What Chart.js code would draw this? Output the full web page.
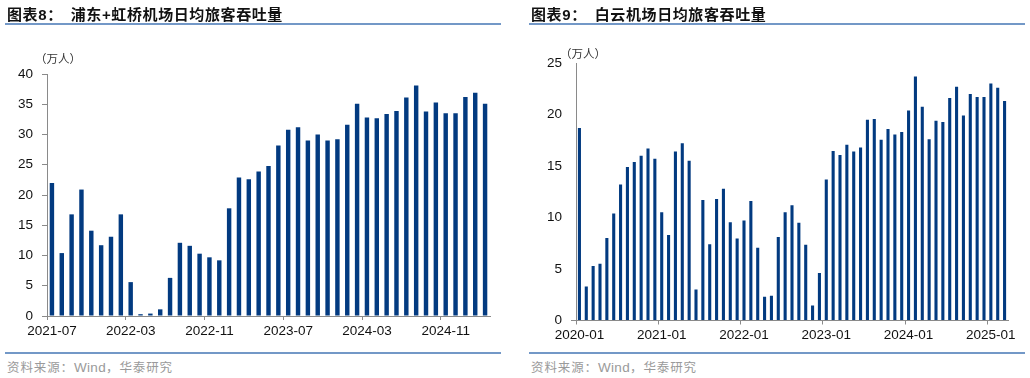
<!DOCTYPE html>
<html>
<head>
<meta charset="utf-8">
<script src="https://cdn.jsdelivr.net/npm/chart.js@4/dist/chart.umd.min.js"></script>
<style>
  html, body { margin: 0; padding: 0; background: #fff; }
  #wrap { position: relative; width: 1030px; height: 378px; overflow: hidden; font-family: "Liberation Sans", Arial, sans-serif; }
  canvas { position: absolute; top: 0; }
  .title { position: absolute; top: 5px; font-family: "Noto Sans CJK SC", sans-serif; font-weight: bold; font-size: 15px; line-height: 18px; color: #111; white-space: nowrap; letter-spacing: 0.6px; }
  .title .num { font-family: "Liberation Sans", Arial, sans-serif; }
  .title .gap { display: inline-block; width: 8px; }
  .rule { position: absolute; height: 2px; background: #7398c7; }
  .src { position: absolute; top: 358px; font-family: "Noto Sans CJK SC", sans-serif; font-size: 12.5px; line-height: 18px; color: #9a9a9a; letter-spacing: 0.9px; white-space: nowrap; }
  .src .w { font-family: "Liberation Sans", Arial, sans-serif; letter-spacing: 0.3px; font-size: 13.5px; }
  .unit { position: absolute; font-family: "Noto Sans CJK SC", sans-serif; font-size: 11.5px; line-height: 14px; color: #333; white-space: nowrap; }
</style>
</head>
<body>
<div id="wrap">
  <canvas id="c1" width="515" height="345" style="left:0px"></canvas>
  <canvas id="c2" width="515" height="345" style="left:515px"></canvas>

  <div class="title" style="left:7px">图表<span class="num">8</span>：<span class="gap"></span>浦东<span class="num">+</span>虹桥机场日均旅客吞吐量</div>
  <div class="rule" style="left:5px; top:23px; width:496px"></div>
  <div class="title" style="left:531px">图表<span class="num">9</span>：<span class="gap"></span>白云机场日均旅客吞吐量</div>
  <div class="rule" style="left:529px; top:23px; width:496px"></div>

  <div class="unit" style="left:35px; top:51px">（万人）</div>
  <div class="unit" style="left:560px; top:46px">（万人）</div>

  <div class="rule" style="left:5px; top:352px; width:496px"></div>
  <div class="rule" style="left:529px; top:352px; width:496px"></div>
  <div class="src" style="left:7px">资料来源：<span class="w">Wind</span>，华泰研究</div>
  <div class="src" style="left:531px">资料来源：<span class="w">Wind</span>，华泰研究</div>
</div>

<script>
// ---- Chart 8: 浦东+虹桥机场日均旅客吞吐量 (万人), monthly 2021-07 .. 2025-03 ----
const months8 = [
  "2021-07","2021-08","2021-09","2021-10","2021-11","2021-12",
  "2022-01","2022-02","2022-03","2022-04","2022-05","2022-06","2022-07","2022-08","2022-09","2022-10","2022-11","2022-12",
  "2023-01","2023-02","2023-03","2023-04","2023-05","2023-06","2023-07","2023-08","2023-09","2023-10","2023-11","2023-12",
  "2024-01","2024-02","2024-03","2024-04","2024-05","2024-06","2024-07","2024-08","2024-09","2024-10","2024-11","2024-12",
  "2025-01","2025-02","2025-03"
];
const pax8 = [
  22.0, 10.4, 16.8, 20.9, 14.1, 11.7,
  13.1, 16.8, 5.6, 0.3, 0.4, 1.1, 6.3, 12.1, 11.6, 10.3, 9.7, 9.2,
  17.8, 22.9, 22.6, 23.9, 24.8, 28.2, 30.8, 31.2, 29.0, 30.0, 29.0, 29.2,
  31.6, 35.1, 32.8, 32.7, 33.4, 33.9, 36.1, 38.1, 33.8, 35.3, 33.5, 33.5,
  36.2, 36.9, 35.1
];
const ticks8 = ["2021-07","2022-03","2022-11","2023-07","2024-03","2024-11"];

// ---- Chart 9: 白云机场日均旅客吞吐量 (万人), monthly 2020-01 .. 2025-03 ----
const months9 = [
  "2020-01","2020-02","2020-03","2020-04","2020-05","2020-06","2020-07","2020-08","2020-09","2020-10","2020-11","2020-12",
  "2021-01","2021-02","2021-03","2021-04","2021-05","2021-06","2021-07","2021-08","2021-09","2021-10","2021-11","2021-12",
  "2022-01","2022-02","2022-03","2022-04","2022-05","2022-06","2022-07","2022-08","2022-09","2022-10","2022-11","2022-12",
  "2023-01","2023-02","2023-03","2023-04","2023-05","2023-06","2023-07","2023-08","2023-09","2023-10","2023-11","2023-12",
  "2024-01","2024-02","2024-03","2024-04","2024-05","2024-06","2024-07","2024-08","2024-09","2024-10","2024-11","2024-12",
  "2025-01","2025-02","2025-03"
];
const pax9 = [
  18.7, 3.3, 5.3, 5.5, 8.0, 10.4, 13.2, 14.9, 15.4, 16.0, 16.7, 15.7,
  10.5, 8.3, 16.4, 17.2, 15.5, 3.0, 11.7, 7.4, 11.8, 12.8, 9.55, 7.97,
  9.7, 11.6, 7.06, 2.3, 2.4, 8.1, 10.5, 11.2, 9.5, 7.35, 1.46, 4.6,
  13.7, 16.45, 16.06, 17.07, 16.4, 16.8, 19.5, 19.56, 17.55, 18.6, 18.07, 18.3,
  20.4, 23.7, 20.76, 17.6, 19.4, 19.27, 21.6, 22.7, 19.9, 22.0, 21.7, 21.7,
  23.0, 22.6, 21.3
];
const ticks9 = ["2020-01","2021-01","2022-01","2023-01","2024-01","2025-01"];

const BAR = '#023a80';
const AXIS = '#8a8a8a';
const FONT = { family: '"Liberation Sans", Arial, sans-serif', size: 13.5 };

function makeChart(id, labels, data, shownTicks, yMax, yAxisWidth, padTop, padRight, xHeight, yTickAll) {
  const shown = new Set(shownTicks);
  return new Chart(document.getElementById(id), {
    type: 'bar',
    data: {
      labels: labels,
      datasets: [{ data: data, backgroundColor: BAR, borderWidth: 0, barPercentage: 0.45, categoryPercentage: 1.0 }]
    },
    options: {
      responsive: false,
      animation: false,
      events: [],
      layout: { padding: { top: padTop, right: padRight, left: 0, bottom: 0 } },
      plugins: { legend: { display: false }, tooltip: { enabled: false } },
      scales: {
        x: {
          type: 'category',
          offset: true,
          border: { display: true, color: AXIS, width: 1 },
          grid: {
            offset: true,
            drawOnChartArea: false,
            drawTicks: true,
            tickLength: 4,
            color: (ctx) => (ctx.index !== undefined && ctx.index < labels.length && shown.has(labels[ctx.index])) ? AXIS : 'rgba(0,0,0,0)'
          },
          ticks: {
            autoSkip: false,
            maxRotation: 0,
            minRotation: 0,
            padding: 3,
            color: '#111',
            font: FONT,
            callback: function (val, idx) { return shown.has(labels[idx]) ? labels[idx] : ''; }
          },
          afterFit: (s) => { s.height = xHeight; }
        },
        y: {
          min: 0,
          max: yMax,
          border: { display: true, color: AXIS, width: 1 },
          grid: {
            drawOnChartArea: false,
            drawTicks: true,
            tickLength: 5,
            color: (ctx) => (yTickAll || (ctx.tick && ctx.tick.value === 0)) ? AXIS : 'rgba(0,0,0,0)'
          },
          ticks: { stepSize: 5, padding: 9, color: '#111', font: FONT },
          afterFit: (s) => { s.width = yAxisWidth; }
        }
      }
    }
  });
}

makeChart('c1', months8, pax8, ticks8, 40, 47, 74, 25, 29, true);
makeChart('c2', months9, pax9, ticks9, 25, 61, 63, 22, 24.5, false);
</script>
</body>
</html>
